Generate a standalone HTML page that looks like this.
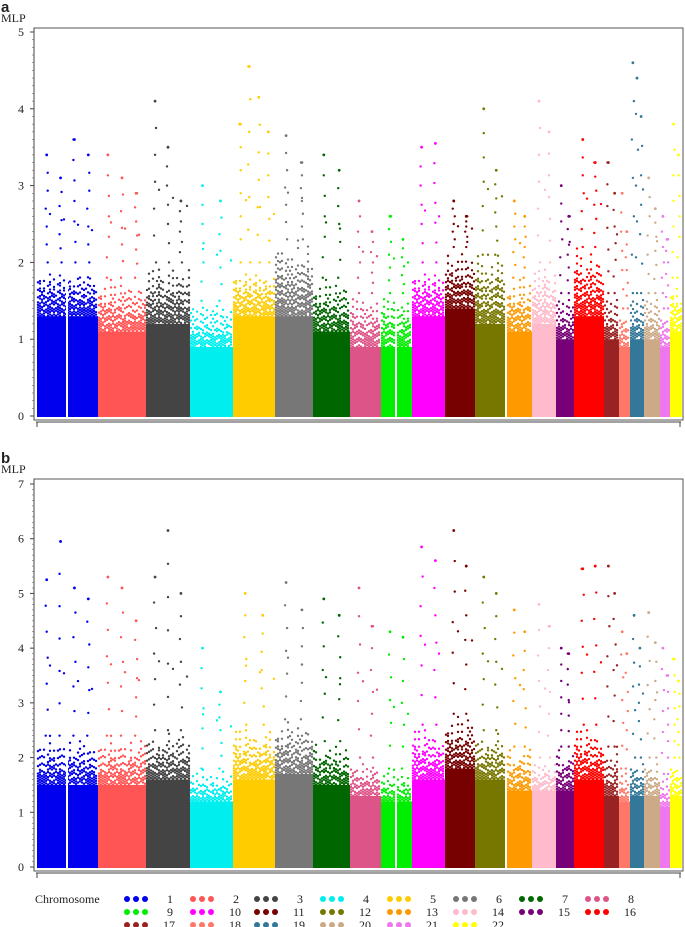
<!DOCTYPE html>
<html><head><meta charset="utf-8"><style>
body{margin:0;background:#fff;width:685px;height:927px;overflow:hidden}
svg{display:block}
text{font-family:"Liberation Serif",serif;fill:#222}
</style></head><body>
<svg id="chart" width="685" height="927">
<text x="1" y="12" style="font-family:'Liberation Sans',sans-serif;font-weight:bold;font-size:15px">a</text>
<text x="1" y="22" font-size="12">MLP</text>
<text x="1" y="463" style="font-family:'Liberation Sans',sans-serif;font-weight:bold;font-size:15px">b</text>
<text x="1" y="473" font-size="12">MLP</text>
<g id="legend"></g>
</svg>
<script>
const chromosomes=["1","2","3","4","5","6","7","8","9","10","11","12","13","14","15","16","17","18","19","20","21","22"];
const colors=["#0000ee","#ff5555","#444444","#00eeee","#ffcc00","#777777","#006600","#dd5588","#00ee00","#ff00ff","#770000","#777700","#ff9900","#ffbbcc","#770077","#ff0000","#992222","#ff7766","#337799","#ccaa88","#ee77ee","#ffff00"];
const chrStart=[37,98,146,190,233,275,313,350,381,412,445,475,507,532,556,574,604,619,630,644,660,670];
const chrEnd=[98,146,190,233,275,313,350,381,412,445,475,505,532,556,574,604,619,630,644,660,670,682];
// panel a
const solidA=[1.3,1.1,1.2,0.9,1.3,1.3,1.1,0.9,0.9,1.3,1.4,1.2,1.1,1.2,1.0,1.3,1.0,0.9,1.0,1.0,0.9,1.1];
const envA=[2.0,1.8,2.0,1.5,2.0,2.3,1.8,1.6,1.6,2.0,2.2,2.1,1.8,2.0,1.6,2.2,1.6,1.4,1.6,1.6,1.4,1.8];
const peaksA=[[3.4,3.1,3.6,3.4],[3.4,3.1,2.9],[4.1,3.5,2.8],[3.0,2.8],[3.8,4.55,4.15,3.7],[3.65,3.3],[3.4,3.2],[2.8,2.4],[2.6,2.3],[3.5,3.55],[2.8,2.6],[4.0,3.2],[2.8,2.6],[4.1,3.7],[3.0,2.6],[3.6,3.3],[3.3,2.9],[2.9,2.4],[4.6,4.4,3.9],[3.1,2.7],[2.6,2.3],[3.8,3.4]];
// panel b
const solidB=[1.5,1.5,1.6,1.2,1.6,1.7,1.5,1.3,1.2,1.6,1.8,1.6,1.4,1.4,1.4,1.6,1.3,1.2,1.3,1.3,1.1,1.3];
const envB=[2.4,2.4,2.5,1.8,2.6,2.7,2.3,2.0,1.8,2.6,2.8,2.5,2.2,2.0,2.2,2.6,2.2,1.8,2.0,2.0,1.7,2.0];
const peaksB=[[5.25,5.95,5.1,4.9],[5.3,5.1,4.5],[5.3,6.15,5.0],[4.0,3.2],[5.0,4.6],[5.2,4.7],[4.9,4.6],[5.1,4.4],[4.3,4.2],[5.85,5.6],[6.15,5.5],[5.3,5.0],[4.7,4.3],[4.8,4.4],[4.0,3.9],[5.45,5.5],[5.5,5.0],[4.3,3.9],[4.6,4.0],[4.65,4.1],[4.0,3.5],[3.8,3.4]];
const ticksA=[0,1,2,3,4,5], ticksB=[0,1,2,3,4,5,6,7];
const NS="http://www.w3.org/2000/svg";
const svg=document.getElementById('chart');
function mk(tag,attrs,parent){const e=document.createElementNS(NS,tag);for(const k in attrs)e.setAttribute(k,attrs[k]);(parent||svg).appendChild(e);return e;}

function panel(id,top,y0,y1,ymax,ticks,solid,env,peaks,gaps){
  const g=mk('g',{});
  
  
  const Y=v=>y0-(y0-y1)*v/ymax;
  const fr=mk('rect',{x:34,y:top,width:649,height:y0+4-top,fill:'none',stroke:'#555','stroke-width':1},g);
  
  
  chromosomes.forEach((c,i)=>{
    const cg=mk('g',{fill:colors[i]},g);
    
    
    const x0=chrStart[i],x1=chrEnd[i];
    mk('rect',{x:x0,y:Y(solid[i]),width:x1-x0,height:y0-Y(solid[i])+1},cg);
    let k=0,col=0;
    for(let x=x0+1;x<x1-0.5;x+=2){
      col++;
      const off=(col*1.3)%2.5;
      const topV=env[i]*(0.85+0.15*((col*7)%5)/4);
      for(let y=Y(solid[i])-off;y>Y(topV);y-=2.5){
        k++;
        const frac=(Y(solid[i])-y)/(Y(solid[i])-Y(topV));
        if(((k*37+col*11)%10)/10>frac*0.9) mk('circle',{cx:x,cy:y,r:1.2},cg);
      }
      if((col*13)%7===0){
        const v=env[i]+(peaks[i][0]-env[i])*(((col*7)%10)/20);
        mk('circle',{cx:x,cy:Y(v),r:1.2},cg);
      }
    }
    const n=peaks[i].length;
    peaks[i].forEach((p,j)=>{
      const px=x0+(x1-x0)*(j+0.7)/(n+0.4);
      mk('circle',{cx:px,cy:Y(p),r:1.4},cg);
      for(let v=env[i];v<p;v+=(p-env[i])/6){mk('circle',{cx:px+((Math.round(v*10)%3)-1),cy:Y(v),r:1.2},cg);}
    });
  });
  gaps.forEach(gx=>mk('rect',{x:gx,y:top+2,width:2,height:y0-top,fill:'#fff'},g));
  mk('line',{x1:34,y1:top,x2:34,y2:y0+4,stroke:'#444'},g);
  ticks.forEach(t=>{
    mk('line',{x1:30,y1:Y(t),x2:34,y2:Y(t),stroke:'#444'},g);
    const tx=mk('text',{x:24,y:Y(t)+4,'font-size':12,'text-anchor':'end'},g);
    tx.textContent=t;
    
    
    for(let m=1;m<10;m++){if(t<ticks[ticks.length-1])mk('line',{x1:32,y1:Y(t+m/10),x2:34,y2:Y(t+m/10),stroke:'#666','stroke-width':0.6},g);}
  });
  mk('line',{x1:36,y1:y0+6,x2:681,y2:y0+6,stroke:'#444'},g);
  mk('line',{x1:37,y1:y0+6,x2:37,y2:y0+11,stroke:'#444'},g);
  mk('line',{x1:680,y1:y0+6,x2:680,y2:y0+11,stroke:'#444'},g);
}
panel('panel-a-plot',28,416,32,5,ticksA,solidA,envA,peaksA,[66,395]);
panel('panel-b-plot',479,867,484,7,ticksB,solidB,envB,peaksB,[66,395]);

const lg=document.getElementById('legend');
const ct=mk('text',{x:35,y:903,'font-size':12},lg);ct.textContent='Chromosome';


const colX=[127,193,257,323,390,456,522,588];
chromosomes.forEach((c,i)=>{
  const r=Math.floor(i/8),col=i%8;
  const y=899+r*13;
  const eg=mk('g',{},lg);
  
  
  for(let d=0;d<3;d++)mk('circle',{cx:colX[col]+d*9,cy:y,r:3,fill:colors[i]},eg);
  const t=mk('text',{x:colX[col]+(c.length>1?36:40),y:y+4,'font-size':12},eg);t.textContent=c;
});
</script>
</body></html>
